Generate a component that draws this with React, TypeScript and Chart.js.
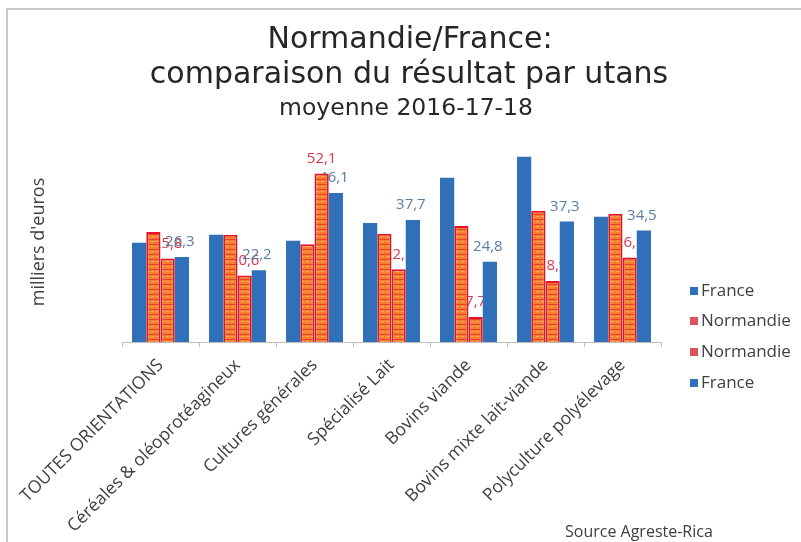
import React, { useEffect, useRef } from 'react';
import { Chart, registerables } from 'chart.js';

Chart.register(...registerables);

const categories = [
  'TOUTES ORIENTATIONS',
  'Céréales & oléoprotéagineux',
  'Cultures générales',
  'Spécialisé Lait',
  'Bovins viande',
  'Bovins mixte lait-viande',
  'Polyculture polyélevage',
];
const seriesLabels = ['France', 'Normandie', 'Normandie', 'France'];
const franceA = [30.7, 33.2, 31.3, 36.8, 50.8, 57.3, 38.7];
const normandieA = [34.0, 33.2, 30.2, 33.5, 35.9, 40.6, 39.7];
const normandieB = [25.8, 20.6, 52.1, 22.5, 7.7, 18.9, 26.1];
const franceB = [26.3, 22.2, 46.1, 37.7, 24.8, 37.3, 34.5];
const titleLines = ['Normandie/France:', 'comparaison du résultat par utans'];
const subtitleText = 'moyenne 2016-17-18';
const yTitle = "milliers d'euros";
const sourceText = 'Source Agreste-Rica';
const yMin = 0;
const yMax = 60;

const BLUE = '#2F70B8';
const RED = '#E2142A';
const ORANGE = '#F4802E';
const LEGEND_RED = '#D9525C';

function makePattern(): CanvasPattern | string {
  const c = document.createElement('canvas');
  c.width = 5;
  c.height = 5;
  const g = c.getContext('2d');
  if (!g) return ORANGE;
  g.fillStyle = ORANGE;
  g.fillRect(0, 0, 5, 5);
  g.fillStyle = '#E8402C';
  g.fillRect(0, 4, 5, 1);
  g.fillStyle = '#F9A85A';
  g.fillRect(1, 1, 3, 1);
  const p = g.createPattern(c, 'repeat');
  return p || ORANGE;
}

const fmt = (v: number) => v.toFixed(1).replace('.', ',');

function drawLabels(chart: any, index: number, color: string, dx: number) {
  const ctx = chart.ctx;
  const meta = chart.getDatasetMeta(index);
  const data = chart.data.datasets[index].data as number[];
  ctx.save();
  ctx.font = '15px "Open Sans"';
  ctx.fillStyle = color;
  ctx.textAlign = 'center';
  ctx.textBaseline = 'middle';
  meta.data.forEach((el: any, i: number) => {
    ctx.fillText(fmt(data[i]), el.x + dx, el.y - 15);
  });
  ctx.restore();
}

const decorPlugin = {
  id: 'decor',
  beforeDraw(chart: any) {
    const ctx = chart.ctx;
    ctx.save();
    ctx.fillStyle = '#FFFFFF';
    ctx.fillRect(0, 0, chart.width, chart.height);
    ctx.strokeStyle = '#C8C8C8';
    ctx.lineWidth = 2;
    ctx.beginPath();
    ctx.moveTo(7, chart.height);
    ctx.lineTo(7, 9);
    ctx.lineTo(chart.width, 9);
    ctx.stroke();
    ctx.restore();
  },
  beforeDatasetsDraw(chart: any) {
    // Normandie (2nd) labels sit behind the neighbouring bars
    drawLabels(chart, 2, '#D5394C', 0);
  },
  afterDatasetDraw(chart: any, args: any) {
    // France (2nd) labels, drawn right after its bars
    if (args.index === 3) drawLabels(chart, 3, '#5A7DA6', -2);
  },
  afterDraw(chart: any) {
    const ctx = chart.ctx;
    ctx.save();
    // titles
    ctx.fillStyle = '#262626';
    ctx.textAlign = 'center';
    ctx.textBaseline = 'alphabetic';
    ctx.font = '30px "DejaVu Sans"';
    ctx.fillText(titleLines[0], 410, 48);
    ctx.fillText(titleLines[1], 409, 83);
    ctx.font = '23.5px "DejaVu Sans"';
    ctx.fillText(subtitleText, 406, 115);

    // y axis title
    ctx.save();
    ctx.translate(39, 242);
    ctx.rotate(-Math.PI / 2);
    ctx.font = '18px "Open Sans"';
    ctx.fillStyle = '#404040';
    ctx.textBaseline = 'middle';
    ctx.fillText(yTitle, 0, 0);
    ctx.restore();

    // legend
    const rows = [291, 321, 352, 383];
    ctx.font = '17px "Open Sans"';
    ctx.textAlign = 'left';
    ctx.textBaseline = 'middle';
    chart.data.datasets.forEach((ds: any, i: number) => {
      const y = rows[i];
      ctx.fillStyle = i === 1 || i === 2 ? LEGEND_RED : BLUE;
      ctx.fillRect(690, y - 4, 8, 8);
      ctx.fillStyle = '#404040';
      ctx.fillText(ds.label, 701, y);
    });

    // source
    ctx.font = '16px "Open Sans"';
    ctx.fillStyle = '#404040';
    ctx.fillText(sourceText, 565, 532);
    ctx.restore();
  },
};

export default function App() {
  const ref = useRef<HTMLCanvasElement | null>(null);

  useEffect(() => {
    document.body.style.margin = '0';
    const canvas = ref.current;
    if (!canvas) return;
    const pattern = makePattern();
    const chart = new Chart(canvas, {
      type: 'bar',
      data: {
        labels: categories,
        datasets: [
          { label: seriesLabels[0], data: franceA, backgroundColor: BLUE, borderWidth: 0 },
          { label: seriesLabels[1], data: normandieA, backgroundColor: pattern as any, borderColor: RED, borderWidth: 2 },
          { label: seriesLabels[2], data: normandieB, backgroundColor: pattern as any, borderColor: RED, borderWidth: 2 },
          { label: seriesLabels[3], data: franceB, backgroundColor: BLUE, borderWidth: 0 },
        ],
      },
      options: {
        responsive: false,
        animation: false,
        devicePixelRatio: 1,
        layout: { padding: { left: 122, right: 140, top: 148, bottom: 0 } },
        datasets: { bar: { categoryPercentage: 0.74, barPercentage: 1.0 } },
        plugins: {
          legend: { display: false },
          title: { display: false },
          tooltip: { enabled: false },
        },
        scales: {
          x: {
            grid: { display: true, drawOnChartArea: false, drawTicks: true, tickLength: 5, color: '#BFBFBF', offset: true },
            border: { display: true, color: '#BFBFBF', width: 1 },
            ticks: {
              minRotation: 45,
              maxRotation: 45,
              autoSkip: false,
              padding: 8,
              color: '#404040',
              font: { family: '"Open Sans"', size: 17.5 },
            },
            afterFit: (s: any) => {
              s.height = 200;
            },
          },
          y: { display: false, min: yMin, max: yMax },
        },
      },
      plugins: [decorPlugin],
    });
    return () => chart.destroy();
  }, []);

  return (
    <div style={{ width: 801, height: 542 }}>
      <canvas ref={ref} width={801} height={542} style={{ display: 'block' }} />
    </div>
  );
}
